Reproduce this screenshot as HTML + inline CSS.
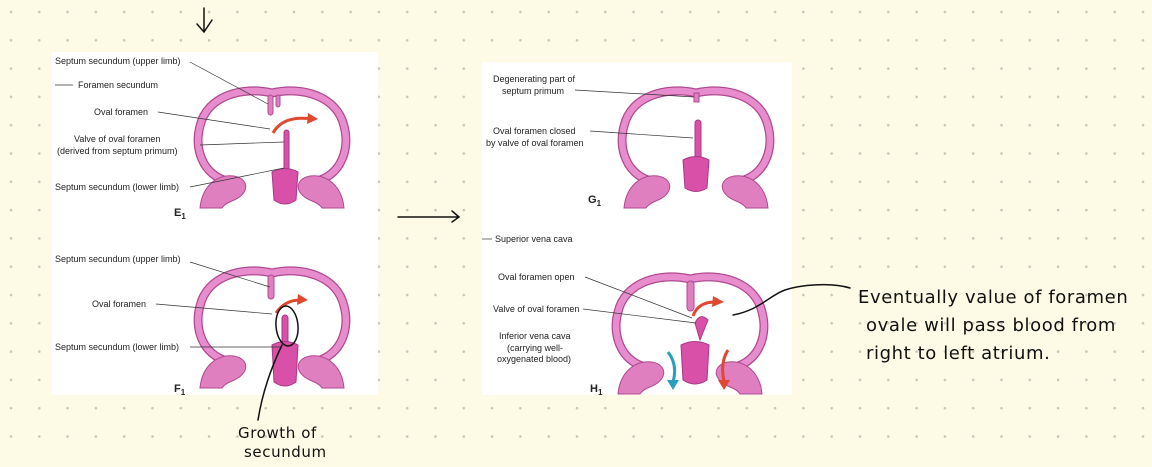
<!DOCTYPE html>
<html><head><style>
body{margin:0;width:1152px;height:462px;overflow:hidden;background:#fdfbe6;font-family:"Liberation Sans",sans-serif}
</style></head><body>
<svg width="1152" height="462" viewBox="0 0 1152 462" xmlns="http://www.w3.org/2000/svg" font-family="Liberation Sans, sans-serif">
<defs>
<pattern id="d" width="28.3" height="28.3" patternUnits="userSpaceOnUse" x="-3" y="-2">
<circle cx="14" cy="14" r="1.3" fill="#c9c7b4"/></pattern>
<g id="heart">
<path d="M-45 95 C-70 88 -78 62 -72 40 C-65 10 -30 0 0 7 C30 0 65 10 72 40 C78 62 70 88 45 95" fill="none" stroke="#b04890" stroke-width="9" stroke-linecap="round"/>
<path d="M-45 95 C-70 88 -78 62 -72 40 C-65 10 -30 0 0 7 C30 0 65 10 72 40 C78 62 70 88 45 95" fill="none" stroke="#e78ccc" stroke-width="6.5" stroke-linecap="round"/>
<path d="M-72 122 C-70 100 -55 88 -38 90 C-22 93 -22 108 -40 115 C-48 118 -50 122 -50 122 Z" fill="#e07fc0" stroke="#b04890"/>
<path d="M72 122 C70 100 55 88 38 90 C22 93 22 108 40 115 C48 118 50 122 50 122 Z" fill="#e07fc0" stroke="#b04890"/>
</g>
</defs>
<rect width="1152" height="462" fill="url(#d)"/>
<rect x="52" y="52" width="326" height="343" fill="#fff"/>
<rect x="482" y="62" width="310" height="333" fill="#fff"/>
<g font-size="9" fill="#222">
<!-- E1 -->
<use href="#heart" x="272" y="86"/>
<rect x="268" y="95" width="5" height="20" rx="2.5" fill="#e07fc0" stroke="#b04890"/>
<rect x="276" y="95" width="4" height="12" rx="2" fill="#e07fc0" stroke="#b04890"/>
<rect x="284" y="130" width="5" height="48" rx="2.5" fill="#d850a8" stroke="#a83888"/>
<path d="M272 172 Q285 165 298 172 L296 200 Q285 208 274 200 Z" fill="#d850a8" stroke="#a83888"/>
<path d="M273 133 Q283 115 312 119" fill="none" stroke="#e04830" stroke-width="3"/>
<path d="M308 113 L318 119 L307 124 Z" fill="#e04830"/>
<text x="55" y="64">Septum secundum (upper limb)</text>
<text x="78" y="88">Foramen secundum</text>
<text x="94" y="115">Oval foramen</text>
<text x="74" y="142">Valve of oval foramen</text>
<text x="57" y="154">(derived from septum primum)</text>
<text x="55" y="190">Septum secundum (lower limb)</text>
<text x="174" y="216" font-weight="bold" font-size="11">E<tspan font-size="8" dy="3">1</tspan></text>
<g stroke="#333" stroke-width="0.7"><line x1="190" y1="62" x2="268" y2="104"/><line x1="55" y1="85" x2="73" y2="85"/><line x1="158" y1="112" x2="270" y2="129"/><line x1="200" y1="145" x2="284" y2="142"/><line x1="190" y1="187" x2="284" y2="168"/></g>
<!-- F1 -->
<use href="#heart" x="272" y="266"/>
<rect x="268" y="275" width="6" height="24" rx="3" fill="#e07fc0" stroke="#b04890"/>
<rect x="282" y="315" width="6" height="30" rx="3" fill="#d850a8" stroke="#a83888"/>
<path d="M272 345 Q285 338 298 345 L296 382 Q285 390 274 382 Z" fill="#d850a8" stroke="#a83888"/>
<path d="M276 313 Q285 300 300 300" fill="none" stroke="#e04830" stroke-width="3"/>
<path d="M298 294 L308 300 L297 305 Z" fill="#e04830"/>
<text x="55" y="262">Septum secundum (upper limb)</text>
<text x="92" y="307">Oval foramen</text>
<text x="55" y="350">Septum secundum (lower limb)</text>
<text x="174" y="392" font-weight="bold" font-size="11">F<tspan font-size="8" dy="3">1</tspan></text>
<g stroke="#333" stroke-width="0.7"><line x1="190" y1="262" x2="270" y2="287"/><line x1="156" y1="304" x2="272" y2="314"/><line x1="190" y1="347" x2="282" y2="347"/></g>
<!-- G1 -->
<use href="#heart" x="696" y="86"/>
<rect x="694" y="93" width="5" height="9" fill="#e07fc0" stroke="#b04890"/>
<rect x="695" y="120" width="6" height="40" rx="3" fill="#d850a8" stroke="#a83888"/>
<path d="M683 160 Q696 153 709 160 L707 188 Q696 195 685 188 Z" fill="#d850a8" stroke="#a83888"/>
<text x="493" y="82">Degenerating part of</text>
<text x="502" y="94">septum primum</text>
<text x="493" y="134">Oval foramen closed</text>
<text x="486" y="146">by valve of oval foramen</text>
<text x="588" y="203" font-weight="bold" font-size="11">G<tspan font-size="8" dy="3">1</tspan></text>
<g stroke="#333" stroke-width="0.7"><line x1="575" y1="90" x2="694" y2="97"/><line x1="590" y1="131" x2="693" y2="138"/></g>
<text x="495" y="242">Superior vena cava</text>
<line x1="482" y1="239" x2="492" y2="239" stroke="#333" stroke-width="0.7"/>
<!-- H1 -->
<use href="#heart" x="690" y="272"/>
<rect x="687" y="281" width="7" height="30" rx="3.5" fill="#e07fc0" stroke="#b04890"/>
<path d="M695 323 Q700 312 708 320 L700 340 Z" fill="#d850a8" stroke="#a83888"/>
<path d="M681 345 Q695 338 709 345 L707 380 Q695 388 683 380 Z" fill="#d850a8" stroke="#a83888"/>
<path d="M693 316 Q698 302 715 302" fill="none" stroke="#e04830" stroke-width="3"/>
<path d="M713 296 L724 302 L712 307 Z" fill="#e04830"/>
<path d="M668 352 Q678 365 673 382" fill="none" stroke="#2a9ec0" stroke-width="3"/>
<path d="M667 380 L673 390 L679 380 Z" fill="#2a9ec0"/>
<path d="M728 350 Q720 362 724 382" fill="none" stroke="#e04830" stroke-width="3"/>
<path d="M718 380 L724 390 L730 380 Z" fill="#e04830"/>
<text x="498" y="280">Oval foramen open</text>
<text x="493" y="312">Valve of oval foramen</text>
<text x="499" y="339">Inferior vena cava</text>
<text x="507" y="351">(carrying well-</text>
<text x="497" y="362">oxygenated blood)</text>
<text x="590" y="392" font-weight="bold" font-size="11">H<tspan font-size="8" dy="3">1</tspan></text>
<g stroke="#333" stroke-width="0.7"><line x1="585" y1="277" x2="692" y2="318"/><line x1="583" y1="309" x2="696" y2="323"/></g>
</g>
<!-- hand annotations -->
<g fill="none" stroke="#111" stroke-width="1.5" stroke-linecap="round">
<path d="M204 8 L204 32 M197 24 L204 32 L212 20"/>
<path d="M398 217 L458 217 M452 211 L459 217 L452 222"/>
<path d="M733 315 C760 310 770 295 785 290 C800 285 830 282 850 288"/>
<ellipse cx="287" cy="326" rx="11" ry="20" transform="rotate(-5 287 326)"/>
<path d="M282 345 C270 370 262 395 258 420"/>
</g>
<g font-family="'DejaVu Sans',sans-serif" font-size="18" fill="#111" letter-spacing="0.6">
<text x="858" y="303">Eventually value of foramen</text>
<text x="866" y="331">ovale will pass blood from</text>
<text x="866" y="359">right to left atrium.</text>
<text x="238" y="438" font-size="15">Growth of</text>
<text x="244" y="457" font-size="15">secundum</text>
</g>
</svg>
</body></html>
